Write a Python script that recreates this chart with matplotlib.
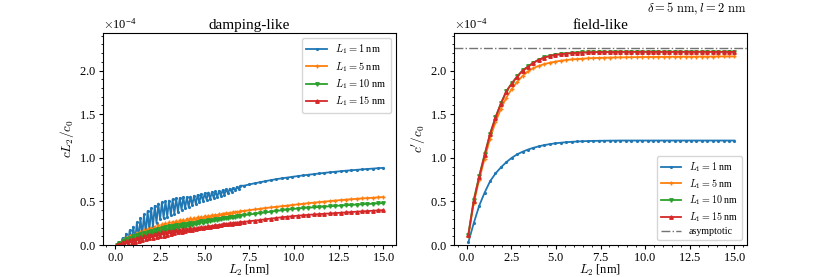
import numpy as np
import matplotlib
matplotlib.use("Agg")
import matplotlib.pyplot as plt
from matplotlib.ticker import MultipleLocator

plt.rcParams["font.family"] = "serif"
plt.rcParams["font.serif"] = ["Liberation Serif", "DejaVu Serif"]
plt.rcParams["mathtext.fontset"] = "cm"
plt.rcParams["axes.formatter.use_mathtext"] = True

# ── Data (values in units of 1e-4) ────────────────────────────────────────────
L1_labels = ["$L_1=1$ nm", "$L_1=5$ nm", "$L_1=10$ nm", "$L_1=15$ nm"]

# damping-like: dense grid in the oscillating region, coarser tail
L2_dense = np.round(np.arange(0.1, 7.05, 0.1), 1)
L2_tail = np.round(np.arange(7.2, 15.05, 0.3), 1)

damp_1_dense = [.005, .035, .01, .08, .01, .13, .015, .17, .025, .21,
                .045, .26, .075, .31, .11, .35, .135, .39, .165, .42,
                .205, .45, .25, .475, .295, .49, .31, .50, .325, .51,
                .34, .525, .36, .535, .38, .54, .405, .55, .42, .55,
                .435, .555, .455, .565, .47, .575, .49, .583, .506, .595,
                .521, .602, .531, .608, .54, .614, .552, .622, .564, .63,
                .578, .638, .594, .646, .61, .656, .626, .668, .642, .68]
damp_1_tail = [.68, .695, .708, .72, .732, .744, .755, .764, .773, .782,
               .79, .798, .806, .813, .82, .827, .834, .84, .846, .852,
               .857, .862, .867, .872, .876, .881, .885]

damp_5_dense = [.002, .018, .018, .057, .03, .083, .039, .102, .053, .12,
                .068, .136, .084, .152, .10, .168, .116, .184, .132, .20,
                .146, .212, .158, .224, .17, .236, .182, .248, .194, .26,
                .206, .268, .218, .276, .23, .284, .242, .292, .254, .30,
                .265, .306, .275, .312, .285, .318, .295, .325, .304, .332,
                .3125, .337, .3215, .343, .3295, .348, .3375, .354, .3455, .361,
                .353, .366, .36, .371, .366, .376, .373, .382, .379, .388]
damp_5_tail = [.391, .40, .408, .416, .424, .431, .438, .445, .452, .459,
               .466, .473, .48, .486, .492, .498, .504, .51, .515, .52,
               .525, .53, .534, .538, .542, .546, .55]

damp_10_dense = [.002, .018, .01, .044, .024, .067, .032, .084, .044, .099,
                 .058, .113, .072, .127, .086, .14, .098, .152, .11, .164,
                 .121, .174, .131, .184, .141, .194, .151, .204, .161, .214,
                 .171, .22, .181, .226, .191, .232, .201, .238, .211, .244,
                 .221, .25, .231, .257, .24, .264, .249, .271, .258, .278,
                 .267, .284, .275, .29, .283, .296, .291, .302, .298, .308,
                 .305, .314, .311, .32, .318, .325, .324, .331, .33, .337]
damp_10_tail = [.342, .35, .358, .366, .374, .382, .39, .398, .405, .412,
                .418, .423, .428, .432, .436, .44, .444, .448, .452, .456,
                .459, .463, .466, .47, .473, .477, .48]

damp_15_dense = [.001, .013, .006, .031, .012, .046, .017, .059, .025, .07,
                 .035, .08, .045, .09, .055, .10, .065, .11, .075, .12,
                 .084, .128, .092, .136, .10, .144, .108, .152, .116, .159,
                 .126, .165, .136, .171, .146, .176, .154, .18, .162, .185,
                 .169, .19, .176, .195, .183, .20, .19, .205, .197, .21,
                 .204, .215, .21, .22, .217, .226, .223, .232, .229, .237,
                 .236, .242, .241, .247, .246, .252, .251, .257, .256, .262]
damp_15_tail = [.266, .273, .28, .287, .295, .303, .31, .318, .324, .33,
                .336, .341, .346, .35, .354, .358, .362, .366, .37, .374,
                .378, .382, .386, .389, .393, .397, .40]

# field-like
L2_field = np.linspace(0.1, 15.0, 50)

field_1 = [.03, .25, .45, .60, .73, .82, .89, .95, 1.0, 1.04,
           1.07, 1.095, 1.115, 1.132, 1.146, 1.157, 1.166, 1.173, 1.179, 1.183,
           1.187, 1.19, 1.192, 1.194, 1.195, 1.196, 1.197, 1.197, 1.198, 1.198,
           1.198, 1.198, 1.198, 1.198, 1.198, 1.198, 1.198, 1.198, 1.198, 1.198,
           1.198, 1.198, 1.198, 1.198, 1.198, 1.198, 1.198, 1.198, 1.198, 1.198]
field_5 = [.10, .48, .75, .99, 1.22, 1.41, 1.56, 1.69, 1.79, 1.87,
           1.94, 1.99, 2.03, 2.055, 2.075, 2.09, 2.103, 2.113, 2.121, 2.128,
           2.133, 2.137, 2.141, 2.144, 2.146, 2.148, 2.15, 2.151, 2.152, 2.153,
           2.154, 2.155, 2.156, 2.156, 2.157, 2.157, 2.158, 2.158, 2.159, 2.159,
           2.16, 2.16, 2.16, 2.161, 2.161, 2.161, 2.162, 2.162, 2.162, 2.162]
field_10 = [.12, .52, .79, 1.04, 1.275, 1.465, 1.625, 1.765, 1.855, 1.935,
            2.003, 2.048, 2.092, 2.127, 2.151, 2.169, 2.181, 2.189, 2.196, 2.201,
            2.205, 2.208, 2.21, 2.212, 2.213, 2.214, 2.215, 2.215, 2.216, 2.216,
            2.216, 2.216, 2.216, 2.216, 2.216, 2.216, 2.216, 2.216, 2.216, 2.216,
            2.216, 2.216, 2.216, 2.216, 2.216, 2.216, 2.216, 2.216, 2.216, 2.216]
field_15 = [.11, .50, .78, 1.03, 1.27, 1.46, 1.62, 1.76, 1.85, 1.93,
            2.0, 2.045, 2.09, 2.125, 2.15, 2.168, 2.18, 2.188, 2.195, 2.2,
            2.204, 2.207, 2.209, 2.211, 2.212, 2.213, 2.214, 2.214, 2.215, 2.215,
            2.215, 2.215, 2.215, 2.215, 2.215, 2.215, 2.215, 2.215, 2.215, 2.215,
            2.215, 2.215, 2.215, 2.215, 2.215, 2.215, 2.215, 2.215, 2.215, 2.215]
asymptote = 2.26

scale = 1e-4
markers = [".", "+", "v", "^"]
colors = ["#1f77b4", "#ff7f0e", "#2ca02c", "#d62728"]

L2_damp = np.concatenate([L2_dense, L2_tail])
damping = [np.concatenate([d, t]) for d, t in [
    (damp_1_dense, damp_1_tail), (damp_5_dense, damp_5_tail),
    (damp_10_dense, damp_10_tail), (damp_15_dense, damp_15_tail)]]
field = [field_1, field_5, field_10, field_15]

# ── Figure ────────────────────────────────────────────────────────────────────
fig = plt.figure(figsize=(8.3, 2.77), dpi=100)
ax_d = fig.add_axes([0.124, 0.1155, 0.353, 0.765])
ax_f = fig.add_axes([0.547, 0.1155, 0.353, 0.765])

for ys, lab, mk, c in zip(damping, L1_labels, markers, colors):
    ax_d.plot(L2_damp, np.array(ys) * scale, color=c, marker=mk, ms=2.5,
              lw=1.3, label=lab)
for ys, lab, mk, c in zip(field, L1_labels, markers, colors):
    ax_f.plot(L2_field, np.array(ys) * scale, color=c, marker=mk, ms=2.5,
              lw=1.3, label=lab)
ax_f.axhline(asymptote * scale, color="0.45", ls="-.", lw=1.0, label="asymptotic")

for ax, title, ylab in [(ax_d, "damping-like", "$cL_2/c_0$"),
                        (ax_f, "field-like", "$c'/c_0$")]:
    ax.set_xlim(-0.7, 15.7)
    ax.set_ylim(0, 2.43e-4)
    ax.xaxis.set_major_locator(MultipleLocator(2.5))
    ax.xaxis.set_minor_locator(MultipleLocator(0.5))
    ax.yaxis.set_major_locator(MultipleLocator(0.5e-4))
    ax.yaxis.set_minor_locator(MultipleLocator(0.1e-4))
    ax.ticklabel_format(axis="y", style="sci", scilimits=(0, 0), useMathText=True)
    ax.tick_params(which="major", labelsize=9, length=3, pad=2)
    ax.tick_params(which="minor", length=1.5)
    ax.yaxis.get_offset_text().set_fontsize(9)
    ax.set_title(title, fontsize=11, pad=3)
    ax.set_xlabel("$L_2$ [nm]", fontsize=9, labelpad=-1)
    ax.set_ylabel(ylab, fontsize=9.5, labelpad=2)

ax_d.legend(loc="upper right", fontsize=7.5, handlelength=2.0,
            borderpad=0.4, labelspacing=0.35)
ax_f.legend(loc="lower right", fontsize=7.2, handlelength=2.0,
            borderpad=0.4, labelspacing=0.3)

fig.text(0.899, 0.968, r"$\delta=5\ \mathrm{nm}, l=2\ \mathrm{nm}$",
         ha="right", va="center", fontsize=9)

fig.savefig("out.png", dpi=100)
